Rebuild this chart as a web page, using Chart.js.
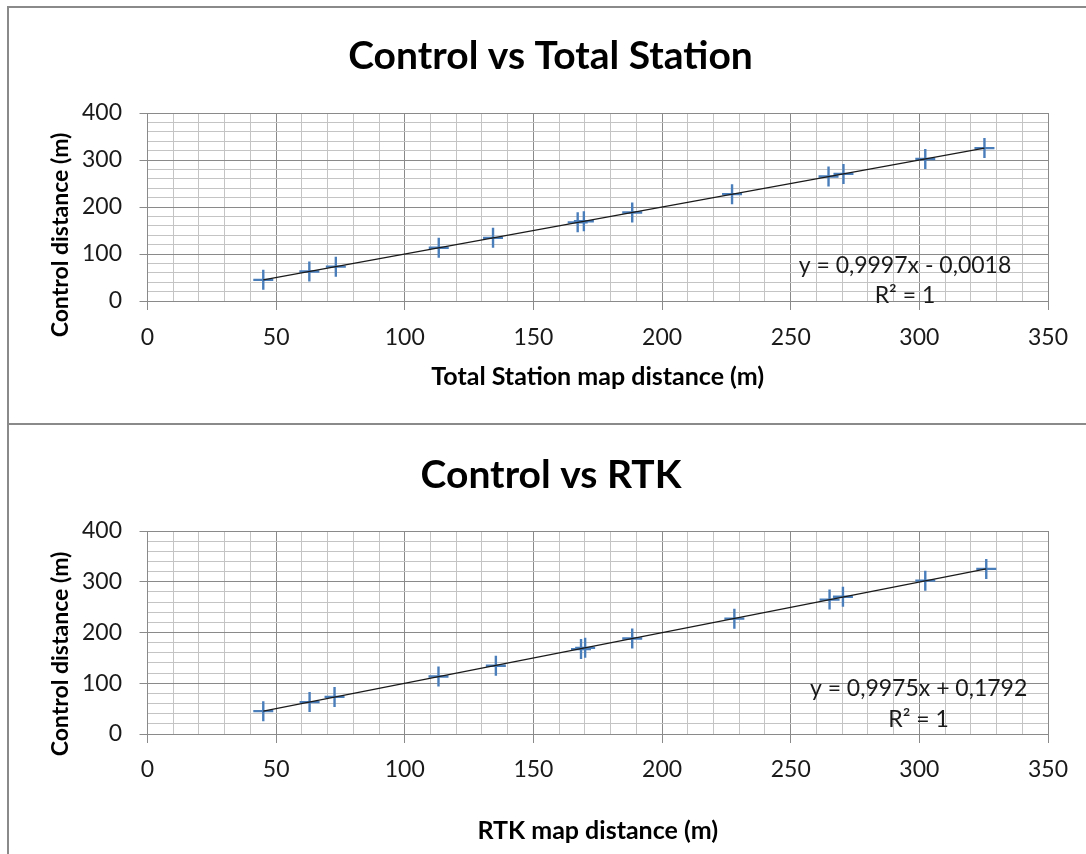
<!DOCTYPE html>
<html>
<head>
<meta charset="utf-8">
<script src="https://cdn.jsdelivr.net/npm/chart.js@4.4.1/dist/chart.umd.min.js"></script>
<style>
  html, body { margin: 0; padding: 0; background: #fff; width: 1086px; height: 854px; overflow: hidden; }
  #frame { position: absolute; left: 7px; top: 6px; width: 1200px; height: 1000px; border-left: 2px solid #8a8a8a; border-top: 2px solid #8a8a8a; }
  #divider { position: absolute; left: 7px; top: 423px; width: 1200px; height: 2px; background: #8a8a8a; }
  canvas { position: absolute; left: 0; }
  #c1 { top: 0; }
  #c2 { top: 425px; }
</style>
</head>
<body>
<div id="frame"></div>
<div id="divider"></div>
<canvas id="c1" width="1086" height="423"></canvas>
<canvas id="c2" width="1086" height="429"></canvas>
<script>
// ---- data ----
const controlDistance = [45.0, 62.9, 73.1, 113.2, 134.4, 167.3, 169.8, 188.3, 227.3, 264.8, 270.4, 302.2, 325.3];
const totalStationDistance = [45.0, 62.9, 73.2, 113.2, 134.3, 167.2, 169.6, 188.4, 227.2, 264.7, 270.5, 302.3, 325.3];
const rtkDistance = [45.0, 63.0, 72.7, 113.1, 135.4, 168.5, 170.1, 188.4, 228.1, 265.1, 270.3, 302.3, 326.0];
const xTickLabels = [0, 50, 100, 150, 200, 250, 300, 350];
const yTickLabels = [0, 100, 200, 300, 400];
const tsFit = { slope: 0.9997, intercept: -0.0018 };
const rtkFit = { slope: 0.9975, intercept: 0.1792 };
const tsEquation = ['y = 0,9997x - 0,0018', 'R² = 1'];
const rtkEquation = ['y = 0,9975x + 0,1792', 'R² = 1'];

const MAJOR = '#8a8a8a';
const MINOR = '#c4c4c4';
const BLUE = '#4a7ebb';
const FONT = 'Lato, "Open Sans", sans-serif';

const textPlugin = {
  id: 'texts',
  afterDraw(chart, args, o) {
    const ctx = chart.ctx;
    ctx.save();
    ctx.fillStyle = '#000';
    ctx.textAlign = 'center';
    ctx.textBaseline = 'middle';
    ctx.font = 'bold 39px ' + FONT;
    ctx.fillText(o.title, o.titleX, o.titleY);
    ctx.save();
    ctx.translate(o.yTitleX, o.yTitleY);
    ctx.rotate(-Math.PI / 2);
    ctx.font = 'bold 23px ' + FONT;
    ctx.fillText(o.yTitle, 0, 0);
    ctx.restore();
    ctx.font = '23px ' + FONT;
    ctx.fillStyle = '#1a1a1a';
    const xs = chart.scales.x, ys = chart.scales.y;
    o.equation.forEach((t, i) => {
      ctx.fillText(t, xs.getPixelForValue(o.eqX), ys.getPixelForValue(o.eqY[i]));
    });
    ctx.restore();
  }
};

function makeChart(id, xs, fit, opts) {
  const pts = xs.map((x, i) => ({ x: x, y: controlDistance[i] }));
  const xmin = Math.min(...xs), xmax = Math.max(...xs);
  const trend = [
    { x: xmin, y: fit.slope * xmin + fit.intercept },
    { x: xmax, y: fit.slope * xmax + fit.intercept }
  ];
  return new Chart(document.getElementById(id), {
    type: 'scatter',
    data: {
      datasets: [
        { data: trend, showLine: true, borderColor: '#1a1a1a', borderWidth: 1.2, pointRadius: 0, fill: false },
        { data: pts, pointStyle: 'cross', pointRadius: 10, pointBorderWidth: 2.4, pointBorderColor: BLUE, pointBackgroundColor: BLUE, showLine: false }
      ]
    },
    options: {
      responsive: false,
      animation: false,
      devicePixelRatio: 1,
      layout: { padding: { left: 10, right: 38, top: opts.areaTop, bottom: 0 } },
      plugins: {
        legend: { display: false },
        tooltip: { enabled: false },
        title: { display: false },
        texts: opts.texts
      },
      scales: {
        x: {
          type: 'linear', min: 0, max: 350,
          afterFit(s) { s.height = opts.xHeight; },
          afterBuildTicks(s) { s.ticks = []; for (let v = 0; v <= 350; v += 10) s.ticks.push({ value: v }); },
          ticks: {
            autoSkip: false, maxRotation: 0, padding: opts.xTickPad,
            color: '#1a1a1a', font: { family: FONT, size: 23 },
            callback: v => xTickLabels.includes(v) ? String(v) : ''
          },
          grid: {
            color: c => (c.tick && c.tick.value % 50 === 0) ? MAJOR : MINOR,
            tickColor: c => (c.tick && c.tick.value % 50 === 0) ? MAJOR : 'rgba(0,0,0,0)',
            tickLength: 9, lineWidth: 1
          },
          border: { color: MAJOR, width: 1 },
          title: {
            display: true, text: opts.xTitle, color: '#000',
            font: { family: FONT, size: 25, weight: 'bold' },
            padding: { top: 0, bottom: opts.xTitlePad }
          }
        },
        y: {
          type: 'linear', min: 0, max: 400,
          afterFit(s) { s.width = 137.5; },
          afterBuildTicks(s) { s.ticks = []; for (let v = 0; v <= 400; v += 20) s.ticks.push({ value: v }); },
          ticks: {
            autoSkip: false, padding: 17.5,
            color: '#1a1a1a', font: { family: FONT, size: 23 },
            callback: v => yTickLabels.includes(v) ? String(v) : ''
          },
          grid: {
            color: c => (c.tick && c.tick.value % 100 === 0) ? MAJOR : MINOR,
            tickColor: c => (c.tick && c.tick.value % 100 === 0) ? MAJOR : 'rgba(0,0,0,0)',
            tickLength: 8, lineWidth: 1
          },
          border: { color: MAJOR, width: 1 }
        }
      }
    },
    plugins: [textPlugin]
  });
}

makeChart('c1', totalStationDistance, tsFit, {
  areaTop: 113, xHeight: 122, xTickPad: 13.3, xTitle: 'Total Station map distance (m)', xTitlePad: 31,
  texts: { title: 'Control vs Total Station', titleX: 550.5, titleY: 56, yTitle: 'Control distance (m)', yTitleX: 60.5, yTitleY: 235,
           equation: tsEquation, eqX: 294.4, eqY: [76, 12] }
});
makeChart('c2', rtkDistance, rtkFit, {
  areaTop: 106, xHeight: 120, xTickPad: 12.3, xTitle: 'RTK map distance (m)', xTitlePad: 8.3,
  texts: { title: 'Control vs RTK', titleX: 551, titleY: 50, yTitle: 'Control distance (m)', yTitleX: 60.5, yTitleY: 229,
           equation: rtkEquation, eqX: 299.7, eqY: [90, 29] }
});
</script>
</body>
</html>
